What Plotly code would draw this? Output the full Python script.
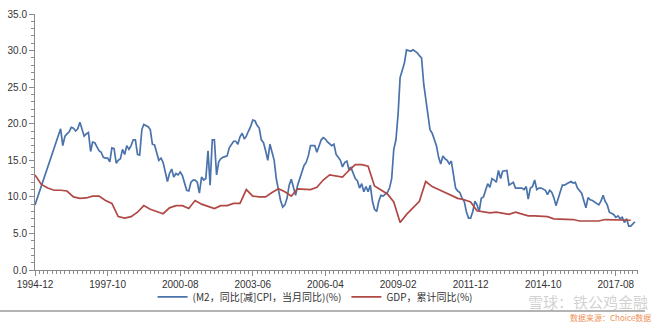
import pandas as pd
import plotly.graph_objects as go

# ---------------- data ----------------
m2_first_date = "1994-12"
m2_first_value = 8.9
m2_start = "1995-12"  # monthly from here
m2_values = [
    19.3, 17.0, 18.3, 18.6, 18.9, 19.5, 19.4, 19.0, 19.3, 20.2, 19.4, 18.3,
    18.6, 18.8, 16.2, 17.5, 17.4, 16.8, 16.3, 16.1, 15.4, 15.3, 15.3, 14.8,
    16.7, 16.6, 14.6, 15.0, 15.2, 16.5, 15.8, 17.0, 16.5, 17.0, 17.8, 17.8,
    15.8, 15.7, 19.2, 19.9, 19.8, 19.6, 19.2, 17.2, 17.1, 16.1, 15.0, 15.3,
    14.7, 13.4, 12.1, 13.2, 13.8, 12.7, 13.2, 13.0, 13.4, 12.9, 11.8, 10.9,
    10.8, 12.0, 12.3, 12.3, 12.0, 10.5, 12.7, 12.3, 12.5, 16.3, 11.6, 17.8,
    17.8, 13.0, 14.8, 15.2, 15.4, 15.5, 15.6, 16.7, 17.2, 17.6, 17.6, 17.2,
    18.2, 18.7, 17.9, 18.3, 19.0, 19.6, 20.5, 20.4, 19.8, 19.4, 17.8, 17.4,
    16.3, 15.0, 17.2, 16.1, 15.0, 12.5, 10.7, 9.5, 8.6, 8.9, 9.8, 11.6,
    12.4, 11.4, 10.2, 11.6, 12.5, 13.4, 14.3, 14.7, 15.6, 17.0, 17.0, 17.0,
    16.1, 17.0, 17.8, 18.1, 17.9, 17.5, 17.3, 17.0, 17.2, 15.8, 15.4, 15.0,
    14.1, 14.7, 14.9, 13.8, 14.0, 13.2, 12.5, 12.2, 11.2, 11.8, 10.7, 11.4,
    10.7, 11.6, 9.4, 8.3, 8.0, 9.4, 10.2, 10.1, 10.3, 10.6, 11.2, 12.5,
    16.5, 17.8, 21.4, 26.3, 27.3, 28.3, 30.1, 30.0, 29.9, 30.1, 29.9, 29.7,
    29.3, 29.0, 25.4, 23.6, 21.4, 19.2, 18.7, 17.8, 17.0, 15.4, 14.5, 15.6,
    15.2, 15.0, 14.5, 14.9, 12.9, 11.2, 10.8, 10.6, 9.8, 9.4, 8.0, 7.1,
    7.1, 8.0, 9.4, 8.9, 8.0, 9.8, 10.0, 10.9, 11.8, 11.3, 12.5, 12.3,
    12.0, 13.6, 12.5, 13.5, 13.6, 13.6, 11.6, 11.8, 12.0, 11.2, 11.2, 11.2,
    11.2, 11.0, 11.4, 9.7, 11.2, 11.4, 12.3, 11.0, 11.2, 11.2, 11.1, 10.9,
    10.3, 10.9, 10.6, 9.9, 8.8, 9.9, 10.7, 11.6, 11.6, 11.8, 12.0, 12.1,
    11.9, 12.0, 11.2, 10.8, 10.5, 9.5, 8.5, 9.9, 9.6, 9.5, 9.3, 9.0,
    8.9, 9.4, 10.2, 9.4, 8.9, 7.9, 7.8, 7.6, 7.2, 7.4, 7.0, 7.2,
    6.5, 7.0, 6.0, 6.0, 6.3, 6.6,
]

gdp_start = "1994-12"  # quarterly (every 3 months) from here
gdp_values = [
    13.0, 11.7, 11.2, 10.9, 10.9, 10.8, 10.0, 9.8, 9.85, 10.1, 10.1, 9.5,
    9.1, 7.3, 7.1, 7.3, 7.9, 8.8, 8.3, 8.0, 7.7, 8.5, 8.8, 8.8,
    8.4, 9.5, 9.0, 8.7, 8.4, 8.8, 8.8, 9.1, 9.1, 11.0, 10.1, 10.0,
    10.0, 10.6, 11.1, 10.7, 10.1, 11.1, 11.1, 11.0, 11.3, 12.3, 13.0, 12.8,
    12.7, 13.6, 14.4, 14.4, 14.2, 11.5, 10.9, 10.4, 9.3, 6.5, 7.6, 8.5,
    9.4, 12.1, 11.4, 11.0, 10.6, 10.3, 9.8, 9.6, 9.3, 8.1, 7.9, 7.8,
    7.9, 7.8, 7.6, 7.9, 7.7, 7.4, 7.4, 7.3, 7.3, 7.0, 7.0, 6.9,
    6.9, 6.7, 6.7, 6.7, 6.7, 6.9, 6.9, 6.9, 6.9, 6.8,
]

tick_labels = ["1994-12", "1997-10", "2000-08", "2003-06", "2006-04",
               "2009-02", "2011-12", "2014-10", "2017-08"]
y_ticks = [0, 5, 10, 15, 20, 25, 30, 35]

m2_name = "(M2，同比[减]CPI，当月同比)(%)"
gdp_name = "GDP，累计同比(%)"

# ---------------- build ----------------
m2_dates = [pd.Timestamp(m2_first_date)] + list(
    pd.date_range(m2_start, periods=len(m2_values), freq="MS"))
m2_y = [m2_first_value] + m2_values
gdp_dates = list(pd.date_range(gdp_start, periods=len(gdp_values), freq="3MS"))

BLUE = "#4A72AB"
RED = "#B04845"
FONT = "Liberation Sans, Arial, Noto Sans CJK SC, sans-serif"

fig = go.Figure()
fig.add_trace(go.Scatter(x=m2_dates, y=m2_y, mode="lines", name=m2_name,
                         line=dict(color=BLUE, width=1.7)))
fig.add_trace(go.Scatter(x=gdp_dates, y=gdp_values, mode="lines", name=gdp_name,
                         line=dict(color=RED, width=1.7)))

fig.update_layout(
    width=660, height=322,
    margin=dict(l=35, r=22, t=8, b=52),
    paper_bgcolor="white", plot_bgcolor="white",
    font=dict(family=FONT, size=10, color="#333333"),
    showlegend=True,
    legend=dict(orientation="h", x=0.195, xanchor="left", y=-0.105,
                yanchor="middle", font=dict(size=10, color="#333333",
                                             family="Noto Sans CJK SC, Liberation Sans, sans-serif"),
                itemwidth=30, bgcolor="rgba(0,0,0,0)", tracegroupgap=0),
)

fig.update_xaxes(
    type="date",
    range=["1994-12-01", "2018-06-13"],
    tickvals=[pd.Timestamp(t) for t in tick_labels],
    ticktext=tick_labels,
    showgrid=False, zeroline=False,
    showline=True, linecolor="#8a8a8a", linewidth=1,
    ticks="outside", ticklen=5, tickcolor="#8a8a8a",
    tickfont=dict(size=10, color="#333333"),
    minor=dict(ticks="outside", ticklen=3, tickcolor="#8a8a8a",
               dtick="M2", tick0="1994-12-01", showgrid=False),
)
fig.update_yaxes(
    range=[0, 35],
    tickvals=y_ticks,
    tickformat=".1f",
    showgrid=False, zeroline=False,
    showline=True, linecolor="#8a8a8a", linewidth=1,
    ticks="outside", ticklen=5, tickcolor="#8a8a8a",
    tickfont=dict(size=10, color="#333333"),
    minor=dict(ticks="outside", ticklen=3, tickcolor="#8a8a8a",
               dtick=1, showgrid=False),
)

# container border line at bottom
fig.add_shape(type="line", xref="paper", yref="paper",
              x0=-0.058, x1=1.0116, y0=-0.160, y1=-0.160,
              line=dict(color="#9a9a9a", width=1.5))

# watermark
fig.add_annotation(text="雪球：铁公鸡金融", xref="paper", yref="paper",
                   x=1.02, y=-0.122, xanchor="right", yanchor="middle",
                   showarrow=False,
                   font=dict(size=15, color="rgba(170,170,170,0.55)",
                             family="Noto Sans CJK SC, sans-serif"))
fig.add_annotation(text="数据来源：Choice数据", xref="paper", yref="paper",
                   x=1.025, y=-0.186, xanchor="right", yanchor="middle",
                   showarrow=False,
                   font=dict(size=8, color="#F0905A",
                             family="Noto Sans CJK SC, sans-serif"))

fig.write_html("out.html")
